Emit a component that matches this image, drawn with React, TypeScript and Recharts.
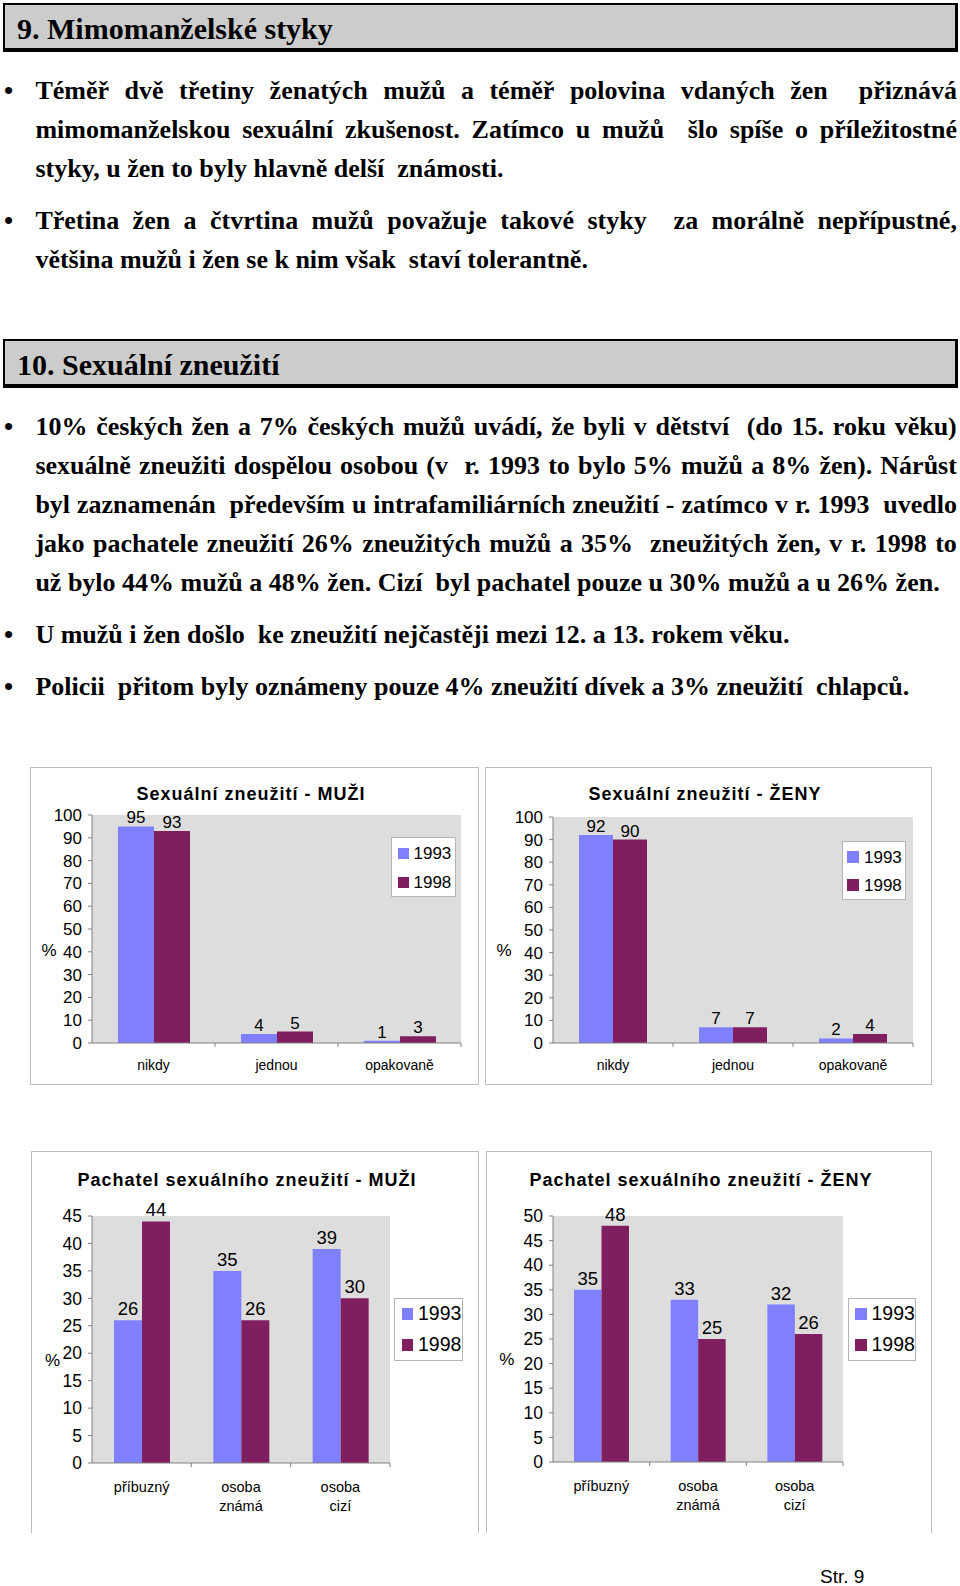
import React from "react";
import { BarChart, Bar, XAxis, YAxis, CartesianGrid, LabelList } from "recharts";

// ---------------- data ----------------
const seriesNames = ["1993", "1998"];

const abuseCategories = ["nikdy", "jednou", "opakovaně"];
const abuseMen1993 = [95, 4, 1];
const abuseMen1998 = [93, 5, 3];
const abuseWomen1993 = [92, 7, 2];
const abuseWomen1998 = [90, 7, 4];

const perpCategories = ["příbuzný", "osoba\nznámá", "osoba\ncizí"];
const perpMen1993 = [26, 35, 39];
const perpMen1998 = [44, 26, 30];
const perpWomen1993 = [35, 33, 32];
const perpWomen1998 = [48, 25, 26];

const ticks100 = [0, 10, 20, 30, 40, 50, 60, 70, 80, 90, 100];
const ticks45 = [0, 5, 10, 15, 20, 25, 30, 35, 40, 45];
const ticks50 = [0, 5, 10, 15, 20, 25, 30, 35, 40, 45, 50];

const heading1 = "9. Mimomanželské styky";
const heading2 = "10. Sexuální zneužití";

const section1 = [
  [
    "Téměř dvě třetiny ženatých mužů a téměř polovina vdaných žen  přiznává",
    "mimomanželskou sexuální zkušenost. Zatímco u mužů  šlo spíše o příležitostné",
    "styky, u žen to byly hlavně delší  známosti.",
  ],
  [
    "Třetina žen a čtvrtina mužů považuje takové styky  za morálně nepřípustné,",
    "většina mužů i žen se k nim však  staví tolerantně.",
  ],
];
const section2 = [
  [
    "10% českých žen a 7% českých mužů uvádí, že byli v dětství  (do 15. roku věku)",
    "sexuálně zneužiti dospělou osobou (v  r. 1993 to bylo 5% mužů a 8% žen). Nárůst",
    "byl zaznamenán  především u intrafamiliárních zneužití - zatímco v r. 1993  uvedlo",
    "jako pachatele zneužití 26% zneužitých mužů a 35%  zneužitých žen, v r. 1998 to",
    "už bylo 44% mužů a 48% žen. Cizí  byl pachatel pouze u 30% mužů a u 26% žen.",
  ],
  ["U mužů i žen došlo  ke zneužití nejčastěji mezi 12. a 13. rokem věku."],
  ["Policii  přitom byly oznámeny pouze 4% zneužití dívek a 3% zneužití  chlapců."],
];
const footerText = "Str. 9";

// ---------------- styles ----------------
const SERIF = '"Liberation Serif", "Times New Roman", serif';
const SANS = '"Liberation Sans", Arial, sans-serif';
const AXIS = "#808080";
const PLOT_BG = "#dddddd";
const C1993 = "#8080ff";
const C1998 = "#7f1f5f";
const seriesColors = [C1993, C1998];

const BODY_FS = 26;
const BODY_LH = 39;
const BASE_OFF = 28.3; // baseline offset from line top

function Heading({ text, top }: { text: string; top: number }) {
  return (
    <>
      <div
        style={{
          position: "absolute",
          left: 3,
          top,
          width: 955,
          height: 49,
          boxSizing: "border-box",
          borderStyle: "solid",
          borderColor: "#000",
          borderWidth: "2px 3px 4px 2px",
          background: "#cccccc",
        }}
      />
      <div
        style={{
          position: "absolute",
          left: 17,
          top: top + 10.5,
          fontFamily: SERIF,
          fontWeight: "bold",
          fontSize: 30,
          lineHeight: "30px",
          whiteSpace: "pre",
          color: "#000",
        }}
      >
        {text}
      </div>
    </>
  );
}

function Paragraph({ lines, baseline }: { lines: string[]; baseline: number }) {
  return (
    <>
      <div
        style={{
          position: "absolute",
          left: 4,
          top: baseline - BASE_OFF,
          fontFamily: SERIF,
          fontWeight: "bold",
          fontSize: BODY_FS,
          lineHeight: BODY_LH + "px",
          color: "#000",
        }}
      >
        •
      </div>
      {lines.map((line, i) => {
        const last = i === lines.length - 1;
        const common: React.CSSProperties = {
          position: "absolute",
          left: 35.4,
          top: baseline - BASE_OFF + i * BODY_LH,
          width: 921.6,
          height: BODY_LH,
          fontFamily: SERIF,
          fontWeight: "bold",
          fontSize: BODY_FS,
          lineHeight: BODY_LH + "px",
          color: "#000",
        };
        if (last) {
          return (
            <div key={i} style={{ ...common, whiteSpace: "pre" }}>
              {line}
            </div>
          );
        }
        const words = line.split(" ");
        return (
          <div key={i} style={{ ...common, display: "flex", justifyContent: "space-between", whiteSpace: "pre" }}>
            {words.map((w, j) => (
              <span key={j}>{w}</span>
            ))}
          </div>
        );
      })}
    </>
  );
}

type Box = { x: number; y: number; w: number; h: number };
type ChartCfg = {
  title: string;
  categories: string[];
  a: number[];
  b: number[];
  ticks: number[];
  frame: Box;
  noBottom?: boolean;
  plot: Box;
  barSize: number;
  labelFont: number;
  labelOffset: number;
  tickFont: number;
  xFont: number;
  xBase: number;
  xGap: number;
  titleCx: number;
  titleBase: number;
  pct: { cx: number; cy: number };
  legend: { x: number; y: number; w: number; h: number; sq: number; sqX: number; row1: number; row2: number; textX: number; font: number };
};

function GroupChart({ cfg }: { cfg: ChartCfg }) {
  const data = cfg.categories.map((c, i) => ({ cat: c, s1993: cfg.a[i], s1998: cfg.b[i] }));
  const { frame, plot } = cfg;
  const yAxisW = plot.x - frame.x;
  const marginTop = plot.y - frame.y;
  const marginRight = frame.x + frame.w - (plot.x + plot.w);
  const xAxisH = frame.y + frame.h - (plot.y + plot.h);
  const halfBand = plot.w / cfg.categories.length / 2;
  const yMax = cfg.ticks[cfg.ticks.length - 1];

  const renderXTick = (props: any) => {
    const { x, y, payload } = props;
    const half = typeof payload?.offset === "number" && payload.offset > 0 ? payload.offset : halfBand;
    const lines = String(payload.value).split("\n");
    return (
      <g>
        <line x1={x + half} x2={x + half} y1={y} y2={y + 4} stroke={AXIS} strokeWidth={1} />
        <text x={x} y={y + cfg.xBase} textAnchor="middle" fontSize={cfg.xFont} fontFamily={SANS} fill="#000">
          {lines.map((l, i) => (
            <tspan key={i} x={x} dy={i === 0 ? 0 : cfg.xGap}>
              {l}
            </tspan>
          ))}
        </text>
      </g>
    );
  };

  const lg = cfg.legend;
  const titleFs = 18;
  return (
    <>
      <div
        style={{
          position: "absolute",
          left: frame.x,
          top: frame.y,
          width: frame.w,
          height: frame.h,
          boxSizing: "border-box",
          border: "1px solid #bdbdbd",
          borderBottom: cfg.noBottom ? "none" : "1px solid #bdbdbd",
          background: "#fff",
        }}
      />
      <div style={{ position: "absolute", left: frame.x, top: frame.y }}>
        <BarChart
          width={frame.w}
          height={frame.h}
          data={data}
          margin={{ top: marginTop, right: marginRight, bottom: 0, left: 0 }}
          barGap={0}
          style={{ overflow: "visible" }}
        >
          <CartesianGrid fill={PLOT_BG} stroke="none" horizontal={false} vertical={false} />
          <XAxis
            dataKey="cat"
            interval={0}
            height={xAxisH}
            tickLine={false}
            tickSize={0}
            tickMargin={0}
            axisLine={{ stroke: AXIS, strokeWidth: 1 }}
            tick={renderXTick}
          />
          <YAxis
            width={yAxisW}
            domain={[0, yMax]}
            ticks={cfg.ticks}
            interval={0}
            tickSize={4}
            tickMargin={6}
            axisLine={{ stroke: AXIS, strokeWidth: 1 }}
            tickLine={{ stroke: AXIS, strokeWidth: 1 }}
            tick={{ fill: "#000", fontSize: cfg.tickFont, fontFamily: SANS }}
          />
          <Bar dataKey="s1993" name={seriesNames[0]} fill={C1993} barSize={cfg.barSize} isAnimationActive={false}>
            <LabelList
              dataKey="s1993"
              position="top"
              offset={cfg.labelOffset}
              fill="#000"
              fontSize={cfg.labelFont}
              fontFamily={SANS}
            />
          </Bar>
          <Bar dataKey="s1998" name={seriesNames[1]} fill={C1998} barSize={cfg.barSize} isAnimationActive={false}>
            <LabelList
              dataKey="s1998"
              position="top"
              offset={cfg.labelOffset}
              fill="#000"
              fontSize={cfg.labelFont}
              fontFamily={SANS}
            />
          </Bar>
        </BarChart>
      </div>
      <div
        style={{
          position: "absolute",
          left: cfg.titleCx - 250,
          width: 500,
          top: cfg.titleBase - 0.8465 * titleFs,
          textAlign: "center",
          fontFamily: SANS,
          fontWeight: "bold",
          fontSize: titleFs,
          lineHeight: titleFs + "px",
          letterSpacing: 1,
          whiteSpace: "pre",
          color: "#000",
        }}
      >
        {cfg.title}
      </div>
      <div
        style={{
          position: "absolute",
          left: cfg.pct.cx - 20,
          width: 40,
          top: cfg.pct.cy + 6 - 0.8465 * 17,
          textAlign: "center",
          fontFamily: SANS,
          fontSize: 17,
          lineHeight: "17px",
          color: "#000",
        }}
      >
        %
      </div>
      <div
        style={{
          position: "absolute",
          left: lg.x,
          top: lg.y,
          width: lg.w,
          height: lg.h,
          boxSizing: "border-box",
          border: "1px solid #b5b5b5",
          background: "#fff",
        }}
      >
        {seriesNames.map((n, i) => {
          const cy = i === 0 ? lg.row1 : lg.row2;
          return (
            <React.Fragment key={n}>
              <div
                style={{
                  position: "absolute",
                  left: lg.sqX - 1,
                  top: cy - lg.sq / 2 - 1,
                  width: lg.sq,
                  height: lg.sq,
                  background: seriesColors[i],
                }}
              />
              <div
                style={{
                  position: "absolute",
                  left: lg.textX - 1,
                  top: cy - lg.font / 2 - 1,
                  fontFamily: SANS,
                  fontSize: lg.font,
                  lineHeight: lg.font + "px",
                  color: "#000",
                }}
              >
                {n}
              </div>
            </React.Fragment>
          );
        })}
      </div>
    </>
  );
}

const chartMen: ChartCfg = {
  title: "Sexuální zneužití - MUŽI",
  categories: abuseCategories,
  a: abuseMen1993,
  b: abuseMen1998,
  ticks: ticks100,
  frame: { x: 30, y: 767, w: 449, h: 318 },
  plot: { x: 92, y: 815, w: 369, h: 228 },
  barSize: 36,
  labelFont: 17,
  labelOffset: 3,
  tickFont: 17,
  xFont: 14,
  xBase: 27,
  xGap: 19,
  titleCx: 251,
  titleBase: 800,
  pct: { cx: 49, cy: 950 },
  legend: { x: 391, y: 837, w: 65, h: 60, sq: 11, sqX: 6.5, row1: 16, row2: 45, textX: 22.5, font: 17 },
};
const chartWomen: ChartCfg = {
  title: "Sexuální zneužití - ŽENY",
  categories: abuseCategories,
  a: abuseWomen1993,
  b: abuseWomen1998,
  ticks: ticks100,
  frame: { x: 485, y: 767, w: 447, h: 318 },
  plot: { x: 553, y: 817, w: 360, h: 226 },
  barSize: 34,
  labelFont: 17,
  labelOffset: 3,
  tickFont: 17,
  xFont: 14,
  xBase: 27,
  xGap: 19,
  titleCx: 705,
  titleBase: 800,
  pct: { cx: 504, cy: 950 },
  legend: { x: 842, y: 841, w: 64, h: 59, sq: 12, sqX: 4.5, row1: 16, row2: 44.3, textX: 22, font: 17 },
};
const chartPerpMen: ChartCfg = {
  title: "Pachatel sexuálního zneužití - MUŽI",
  categories: perpCategories,
  a: perpMen1993,
  b: perpMen1998,
  ticks: ticks45,
  frame: { x: 31, y: 1151, w: 448, h: 382 },
  noBottom: true,
  plot: { x: 92, y: 1216, w: 298, h: 247 },
  barSize: 28,
  labelFont: 18.5,
  labelOffset: 5,
  tickFont: 17.5,
  xFont: 14.5,
  xBase: 29,
  xGap: 19,
  titleCx: 247,
  titleBase: 1186.7,
  pct: { cx: 52.5, cy: 1360 },
  legend: { x: 394, y: 1298, w: 69, h: 63, sq: 11.5, sqX: 7.5, row1: 16, row2: 47, textX: 24, font: 19.5 },
};
const chartPerpWomen: ChartCfg = {
  title: "Pachatel sexuálního zneužití - ŽENY",
  categories: perpCategories,
  a: perpWomen1993,
  b: perpWomen1998,
  ticks: ticks50,
  frame: { x: 486, y: 1151, w: 446, h: 382 },
  noBottom: true,
  plot: { x: 553, y: 1216, w: 290, h: 246 },
  barSize: 27.5,
  labelFont: 18.5,
  labelOffset: 5,
  tickFont: 17.5,
  xFont: 14.5,
  xBase: 29,
  xGap: 19,
  titleCx: 701,
  titleBase: 1186.7,
  pct: { cx: 506.7, cy: 1359 },
  legend: { x: 848, y: 1298, w: 68, h: 63, sq: 12, sqX: 7, row1: 16, row2: 47, textX: 23.5, font: 19.5 },
};

export default function App() {
  const s1Base = [99, 229.3];
  const s2Base = [435, 643.3, 695];
  return (
    <div
      style={{
        position: "absolute",
        left: 0,
        top: 0,
        width: 960,
        height: 1586,
        background: "#fff",
        overflow: "hidden",
      }}
    >
      <Heading text={heading1} top={3} />
      {section1.map((p, i) => (
        <Paragraph key={"a" + i} lines={p} baseline={s1Base[i]} />
      ))}
      <Heading text={heading2} top={339} />
      {section2.map((p, i) => (
        <Paragraph key={"b" + i} lines={p} baseline={s2Base[i]} />
      ))}
      <GroupChart cfg={chartMen} />
      <GroupChart cfg={chartWomen} />
      <GroupChart cfg={chartPerpMen} />
      <GroupChart cfg={chartPerpWomen} />
      <div
        style={{
          position: "absolute",
          left: 820,
          top: 1583 - 0.8465 * 19,
          fontFamily: SANS,
          fontSize: 19,
          lineHeight: "19px",
          color: "#000",
          whiteSpace: "pre",
        }}
      >
        {footerText}
      </div>
    </div>
  );
}
